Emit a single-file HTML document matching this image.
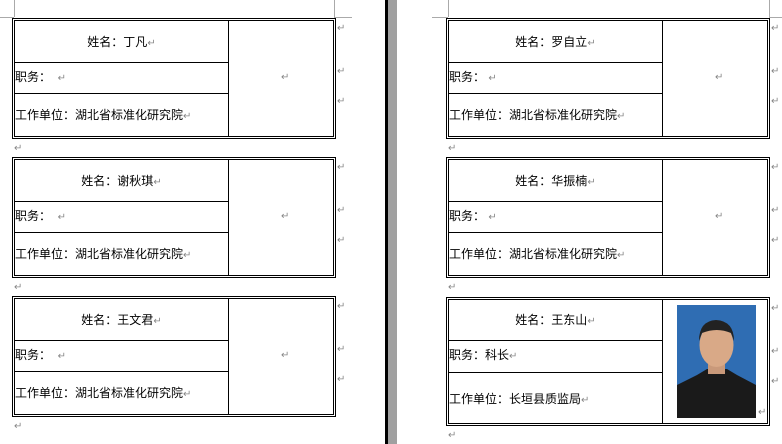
<!DOCTYPE html>
<html><head><meta charset="utf-8"><style>
body{margin:0;width:782px;height:444px;background:#fff;position:relative;overflow:hidden;font-family:"Liberation Sans","Noto Sans CJK SC",sans-serif;font-size:12px;color:#000}
.a{position:absolute}
.card{position:absolute;width:322px;border:1px solid #000}
.in{position:absolute;left:1px;top:1px;right:1px;bottom:1px;border:1px solid #000}
.v{position:absolute;width:1px;background:#000;top:2px;bottom:2px;left:215px}
.h{position:absolute;height:1px;background:#000;left:2px;width:213px}
.t{position:absolute;white-space:nowrap;line-height:14px}
.m{color:#888;font-size:10px}
.g{position:absolute;background:#aaa}
</style></head><body>
<div class="a" style="left:385px;top:0;width:3px;height:444px;background:#000"></div>
<div class="a" style="left:388px;top:0;width:9px;height:444px;background:#a0a0a0"></div>
<div class="g" style="left:14px;top:0;width:1px;height:17px"></div>
<div class="g" style="left:0;top:17px;width:14px;height:1px"></div>
<div class="g" style="left:334px;top:0;width:1px;height:17px"></div>
<div class="g" style="left:334px;top:17px;width:18px;height:1px"></div>
<div class="g" style="left:448px;top:0;width:1px;height:17px"></div>
<div class="g" style="left:432px;top:17px;width:16px;height:1px"></div>
<div class="g" style="left:769px;top:0;width:1px;height:17px"></div>
<div class="g" style="left:769px;top:17px;width:13px;height:1px"></div>

<!-- left cards -->
<div class="card" style="left:12px;top:18px;height:119px"><div class="in"></div><div class="v"></div>
<div class="h" style="top:43px"></div><div class="h" style="top:74px"></div>
<div class="t" style="left:2px;width:213px;text-align:center;top:16px">姓名：丁凡<span class="m">↵</span></div>
<div class="t" style="left:2px;top:51px">职务：&nbsp;&nbsp;<span class="m">↵</span></div>
<div class="t" style="left:2px;top:89px">工作单位：湖北省标准化研究院<span class="m">↵</span></div>
<div class="t m" style="left:268px;top:52px">↵</div></div>

<div class="card" style="left:12px;top:157px;height:119px"><div class="in"></div><div class="v"></div>
<div class="h" style="top:43px"></div><div class="h" style="top:74px"></div>
<div class="t" style="left:2px;width:213px;text-align:center;top:16px">姓名：谢秋琪<span class="m">↵</span></div>
<div class="t" style="left:2px;top:51px">职务：&nbsp;&nbsp;<span class="m">↵</span></div>
<div class="t" style="left:2px;top:89px">工作单位：湖北省标准化研究院<span class="m">↵</span></div>
<div class="t m" style="left:268px;top:52px">↵</div></div>

<div class="card" style="left:12px;top:296px;height:119px"><div class="in"></div><div class="v"></div>
<div class="h" style="top:43px"></div><div class="h" style="top:74px"></div>
<div class="t" style="left:2px;width:213px;text-align:center;top:16px">姓名：王文君<span class="m">↵</span></div>
<div class="t" style="left:2px;top:51px">职务：&nbsp;&nbsp;<span class="m">↵</span></div>
<div class="t" style="left:2px;top:89px">工作单位：湖北省标准化研究院<span class="m">↵</span></div>
<div class="t m" style="left:268px;top:52px">↵</div></div>

<!-- right cards -->
<div class="card" style="left:446px;top:18px;height:119px"><div class="in"></div><div class="v"></div>
<div class="h" style="top:43px"></div><div class="h" style="top:74px"></div>
<div class="t" style="left:2px;width:213px;text-align:center;top:16px">姓名：罗自立<span class="m">↵</span></div>
<div class="t" style="left:2px;top:51px">职务：&nbsp;<span class="m">↵</span></div>
<div class="t" style="left:2px;top:89px">工作单位：湖北省标准化研究院<span class="m">↵</span></div>
<div class="t m" style="left:268px;top:52px">↵</div></div>

<div class="card" style="left:446px;top:157px;height:119px"><div class="in"></div><div class="v"></div>
<div class="h" style="top:43px"></div><div class="h" style="top:74px"></div>
<div class="t" style="left:2px;width:213px;text-align:center;top:16px">姓名：华振楠<span class="m">↵</span></div>
<div class="t" style="left:2px;top:51px">职务：&nbsp;<span class="m">↵</span></div>
<div class="t" style="left:2px;top:89px">工作单位：湖北省标准化研究院<span class="m">↵</span></div>
<div class="t m" style="left:268px;top:52px">↵</div></div>

<div class="card" style="left:446px;top:297px;height:127px"><div class="in"></div><div class="v"></div>
<div class="h" style="top:42px"></div><div class="h" style="top:74px"></div>
<div class="t" style="left:2px;width:213px;text-align:center;top:15px">姓名：王东山<span class="m">↵</span></div>
<div class="t" style="left:2px;top:50px">职务：科长<span class="m">↵</span></div>
<div class="t" style="left:2px;top:94px">工作单位：长垣县质监局<span class="m">↵</span></div>
<svg class="a" style="left:230px;top:7px" width="79" height="113" viewBox="0 0 79 113">
<rect width="79" height="113" fill="#2f6db3"/>
<path d="M0 80 L20 70 L30 64 L50 64 L60 70 L79 80 L79 113 L0 113Z" fill="#1a1a1a"/>
<rect x="31" y="55" width="17" height="14" fill="#c9997a"/>
<ellipse cx="39.5" cy="40" rx="17" ry="22" fill="#d9a987"/>
<path d="M22 36 Q22 16 39 15 Q57 16 57 36 L54 28 Q40 22 25 28Z" fill="#222"/>
</svg>
<div class="t m" style="left:311px;top:108px">↵</div></div>

<!-- margin marks -->
<div class="t m" style="left:337px;top:22px">↵</div><div class="t m" style="left:337px;top:65px">↵</div><div class="t m" style="left:337px;top:95px">↵</div>
<div class="t m" style="left:337px;top:161px">↵</div><div class="t m" style="left:337px;top:204px">↵</div><div class="t m" style="left:337px;top:234px">↵</div>
<div class="t m" style="left:337px;top:300px">↵</div><div class="t m" style="left:337px;top:343px">↵</div><div class="t m" style="left:337px;top:373px">↵</div>
<div class="t m" style="left:771px;top:22px">↵</div><div class="t m" style="left:771px;top:65px">↵</div><div class="t m" style="left:771px;top:95px">↵</div>
<div class="t m" style="left:771px;top:161px">↵</div><div class="t m" style="left:771px;top:204px">↵</div><div class="t m" style="left:771px;top:234px">↵</div>
<div class="t m" style="left:771px;top:302px">↵</div><div class="t m" style="left:771px;top:345px">↵</div><div class="t m" style="left:771px;top:375px">↵</div>
<div class="t m" style="left:14px;top:142px">↵</div><div class="t m" style="left:14px;top:281px">↵</div><div class="t m" style="left:14px;top:420px">↵</div>
<div class="t m" style="left:448px;top:142px">↵</div><div class="t m" style="left:448px;top:281px">↵</div><div class="t m" style="left:448px;top:429px">↵</div>
</body></html>
